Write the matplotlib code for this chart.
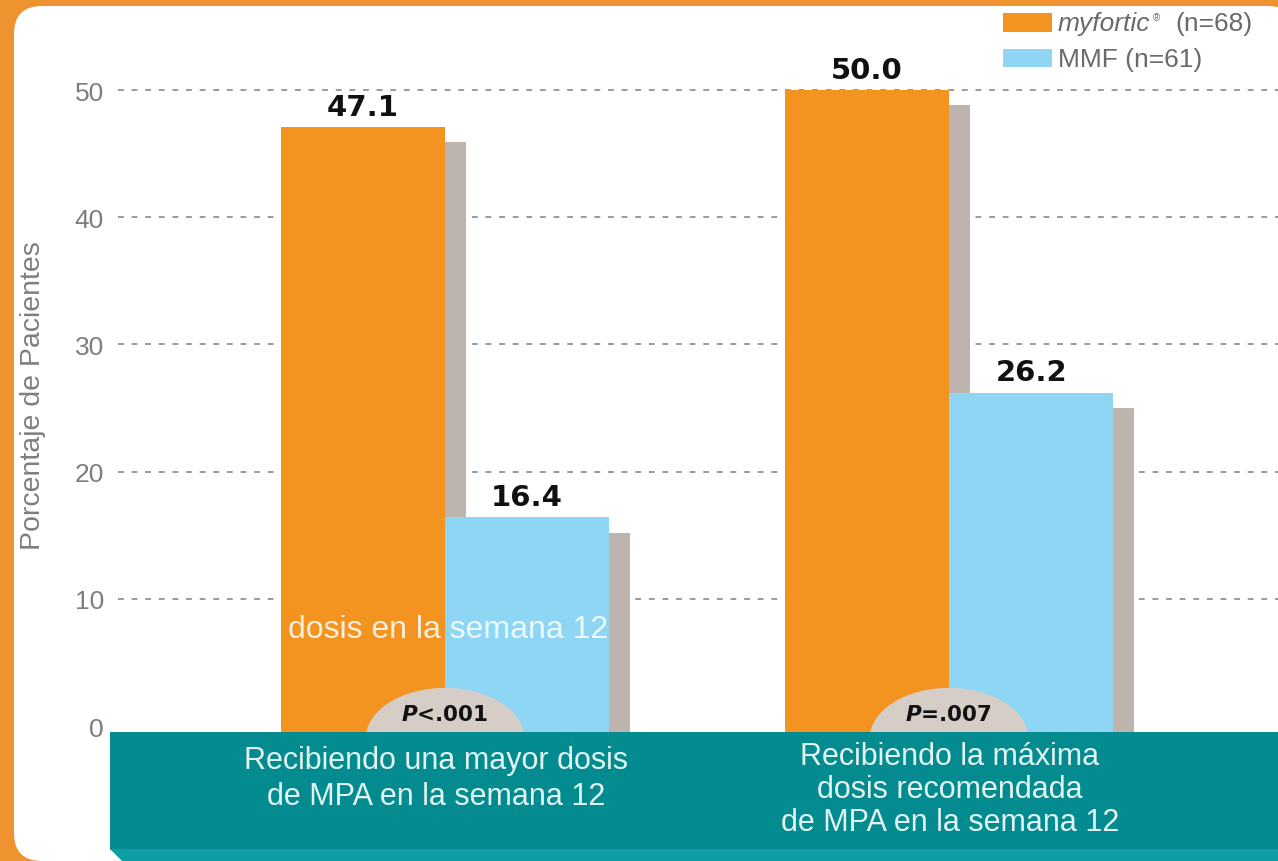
import matplotlib.pyplot as plt
import numpy as np
from matplotlib.patches import FancyBboxPatch, Polygon, Rectangle, Ellipse

plt.rcParams['font.family'] = ['Liberation Sans', 'DejaVu Sans']

# datos
grupos = ["Recibiendo una mayor dosis\nde MPA en la semana 12",
          "Recibiendo la máxima\ndosis recomendada\nde MPA en la semana 12"]
myfortic = [47.1, 50.0]
mmf = [16.4, 26.2]
p_valores = ["<.001", "=.007"]
yticks = [0, 10, 20, 30, 40, 50]

naranja = '#F39320'
azul = '#8FD6F5'
sombra = '#BDB5AD'
teal = '#038B8F'
marco = '#EE9330'
gris = '#7E7E7E'

fig = plt.figure(figsize=(12.78, 8.62), dpi=100, facecolor=marco)

# fondo: marco naranja y panel blanco
bg = fig.add_axes([0, 0, 1, 1], zorder=0)
bg.set_xlim(0, 1278)
bg.set_ylim(862, 0)
bg.axis('off')
bg.add_patch(FancyBboxPatch((14, 7), 1282, 855, boxstyle="round,pad=0,rounding_size=28",
                            fc='white', ec='none'))

# ejes de datos
ax = fig.add_axes([118 / 1278, (862 - 733.4) / 862, 1160 / 1278, 706 / 862], zorder=1)
ax.patch.set_alpha(0)
ax.set_xlim(-0.649, 1.653)
ax.set_ylim(-0.5, 55)
for s in ax.spines.values():
    s.set_visible(False)

for t in yticks[1:]:
    ax.axhline(t, color='#9A9A9A', lw=1.4, ls=(0, (3, 4)), zorder=0)

x = np.arange(len(grupos))
w = 0.326
off = 0.041

# sombras
ax.bar(x - w / 2 + off, np.array(myfortic) - 1.2 + 0.5, w, bottom=-0.5, color=sombra, zorder=1)
ax.bar(x + w / 2 + off, np.array(mmf) - 1.2 + 0.5, w, bottom=-0.5, color=sombra, zorder=1)
# barras
ax.bar(x - w / 2, np.array(myfortic) + 0.5, w, bottom=-0.5, color=naranja, zorder=2)
ax.bar(x + w / 2, np.array(mmf) + 0.5, w, bottom=-0.5, color=azul, zorder=2)

for i in range(len(grupos)):
    ax.text(x[i] - w / 2, myfortic[i] + 0.5, f"{myfortic[i]:.1f}", ha='center', va='bottom',
            fontsize=21, fontweight='bold', family='DejaVu Sans', color='#111111', zorder=5)
    ax.text(x[i] + w / 2, mmf[i] + 0.5, f"{mmf[i]:.1f}", ha='center', va='bottom',
            fontsize=21, fontweight='bold', family='DejaVu Sans', color='#111111', zorder=5)
    ax.add_patch(Ellipse((x[i], -1.0), 0.315, 8.0, fc='#D6CEC6', ec='none', zorder=3))
    ax.text(x[i], 0.95, r"$\mathbfit{P}$" + p_valores[i], ha='center', va='center',
            fontsize=15.5, fontweight='bold', family='DejaVu Sans', color='#111111', zorder=4)

ax.text(0.006, 7.6, "dosis en la semana 12", ha='center', va='center', fontsize=23,
        color='white', alpha=0.85, zorder=4)

ax.set_xticks([])
ax.set_yticks(yticks)
ax.set_yticklabels([str(t) for t in yticks], fontsize=19, color=gris)
ax.tick_params(axis='y', length=0, pad=10)

fig.text(33 / 1278, 1 - 396 / 862, "Porcentaje de Pacientes", rotation=90, ha='center',
         va='center', fontsize=20.5, color=gris)

# banda inferior, categorias y leyenda
fg = fig.add_axes([0, 0, 1, 1], zorder=2)
fg.patch.set_alpha(0)
fg.set_xlim(0, 1278)
fg.set_ylim(862, 0)
fg.axis('off')
fg.add_patch(Rectangle((110, 733), 1168, 118, fc=teal, ec='none'))
fg.add_patch(Polygon([(110, 850), (1278, 850), (1278, 862), (122, 862)],
                     closed=True, fc='#0C9EA2', ec='none'))
fg.text(436, 779, grupos[0], ha='center', va='center', fontsize=22, color='#E2F4F2',
        linespacing=1.28)
fg.text(950, 790, grupos[1], ha='center', va='center', fontsize=22, color='#E2F4F2',
        linespacing=1.12)

fg.add_patch(Rectangle((1003, 14), 49, 19, fc=naranja, ec='none'))
fg.add_patch(Rectangle((1003, 50), 49, 18, fc=azul, ec='none'))
t1 = fg.text(1058, 31, "myfortic", style='italic', ha='left', va='baseline', fontsize=19,
             color='#6A6A6A')
t2 = fg.annotate("®", xy=(1, 1), xycoords=t1, xytext=(2, -1), textcoords='offset points',
                 ha='left', va='top', fontsize=7, color='#6A6A6A')
fg.annotate("(n=68)", xy=(1, 31), xycoords=(t2, 'data'), xytext=(11, 0),
            textcoords='offset points', ha='left', va='baseline', fontsize=19, color='#6A6A6A')
fg.text(1058, 67, "MMF (n=61)", ha='left', va='baseline', fontsize=19, color='#6A6A6A')

fig.savefig("out.png", dpi=100, facecolor=marco)
